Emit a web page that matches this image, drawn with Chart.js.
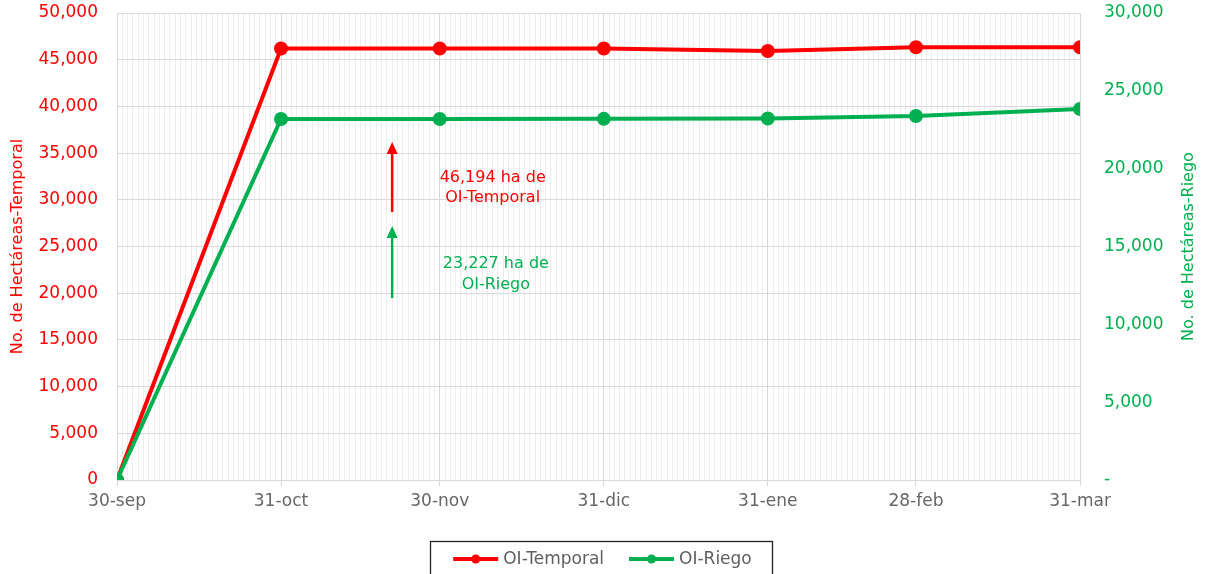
<!DOCTYPE html>
<html><head><meta charset="utf-8">
<script src="https://cdn.jsdelivr.net/npm/chart.js@4/dist/chart.umd.min.js"></script>
<style>html,body{margin:0;padding:0;background:#fff;}#wrap{width:1208px;height:574px;position:relative;overflow:hidden}</style>
</head><body><div id="wrap"><canvas id="c" width="1208" height="574" style="width:1208px;height:574px"></canvas></div>
<script>
// ---- data ----
const dates = ['2022-09-30','2022-10-31','2022-11-30','2022-12-31','2023-01-31','2023-02-28','2023-03-31'];
const tickLabels = ['30-sep','31-oct','30-nov','31-dic','31-ene','28-feb','31-mar'];
const seriesNames = ['OI-Temporal','OI-Riego'];
const temporal = [0, 46194, 46194, 46194, 45930, 46330, 46340];
const riego = [0, 23190, 23195, 23200, 23227, 23380, 23830];
const leftTicksMax = 50000, rightTicksMax = 30000, tickStep = 5000;
const leftTitle = 'No. de Hectáreas-Temporal';
const rightTitle = 'No. de Hectáreas-Riego';
const notes = [
  {lines:['46,194 ha de','OI-Temporal'], color:'#ff0000', textDay:71, textY:[32330,30190], arrowDay:52, arrowFrom:28700, arrowTo:36200},
  {lines:['23,227 ha de','OI-Riego'], color:'#00b050', textDay:71.6, textY:[23120,20880], arrowDay:52, arrowFrom:19480, arrowTo:27200}
];

// ---- helpers ----
const base = Date.parse(dates[0]+'T00:00:00Z');
const days = dates.map(d => Math.round((Date.parse(d+'T00:00:00Z') - base)/86400000));
const lastDay = days[days.length-1];
const FONT = "'DejaVu Sans', sans-serif";
const RED = '#ff0000', GREEN = '#00b050', GRAY = '#666666', LEGGRAY = '#5f5f5f';

const notesPlugin = {
  id:'notes',
  afterDatasetsDraw(chart){
    const {ctx} = chart; const xs = chart.scales.x, ys = chart.scales.y;
    ctx.save();
    notes.forEach(n => {
      const ax = xs.getPixelForValue(n.arrowDay);
      const y0 = ys.getPixelForValue(n.arrowFrom), y1 = ys.getPixelForValue(n.arrowTo);
      ctx.strokeStyle = n.color; ctx.fillStyle = n.color; ctx.lineWidth = 2.5;
      ctx.beginPath(); ctx.moveTo(ax, y0); ctx.lineTo(ax, y1 + 10); ctx.stroke();
      ctx.beginPath(); ctx.moveTo(ax, y1); ctx.lineTo(ax-5.5, y1+12); ctx.lineTo(ax+5.5, y1+12); ctx.closePath(); ctx.fill();
      ctx.font = '16px ' + FONT; ctx.textAlign = 'center'; ctx.textBaseline = 'middle';
      const tx = xs.getPixelForValue(n.textDay);
      n.lines.forEach((l,i) => ctx.fillText(l, tx, ys.getPixelForValue(n.textY[i])));
    });
    ctx.restore();
  }
};

const extrasPlugin = {
  id:'extras',
  afterDraw(chart){
    const {ctx, chartArea} = chart;
    const r = chart.scales.y1;
    // right axis title, reading bottom to top
    ctx.save();
    ctx.translate(r.right - 19, (chartArea.top + chartArea.bottom)/2);
    ctx.rotate(-Math.PI/2);
    ctx.font = '16px ' + FONT; ctx.fillStyle = GREEN; ctx.textAlign = 'center'; ctx.textBaseline = 'middle';
    ctx.fillText(rightTitle, 0, 0);
    ctx.restore();
    // legend
    const ds = chart.data.datasets;
    ctx.save();
    ctx.font = '17px ' + FONT; ctx.textBaseline = 'middle'; ctx.textAlign = 'left';
    const LW = 45, GAP = 5, SEP = 25;
    const widths = ds.map(d => LW + GAP + ctx.measureText(d.label).width);
    const total = widths.reduce((a,b)=>a+b,0) + SEP*(ds.length-1);
    const cx = (chartArea.left + chartArea.right)/2 + 4;
    const cy = 559;
    let x = cx - total/2;
    const start = x;
    ds.forEach((d,i) => {
      ctx.strokeStyle = d.borderColor; ctx.fillStyle = d.borderColor; ctx.lineWidth = 4;
      ctx.beginPath(); ctx.moveTo(x, cy); ctx.lineTo(x+LW, cy); ctx.stroke();
      ctx.beginPath(); ctx.arc(x+LW/2, cy, 4.5, 0, Math.PI*2); ctx.fill();
      ctx.fillStyle = LEGGRAY; ctx.fillText(d.label, x+LW+GAP, cy+1);
      x += widths[i] + SEP;
    });
    const end = x - SEP;
    ctx.strokeStyle = '#222'; ctx.lineWidth = 1.3;
    ctx.strokeRect(Math.round(start-23)+0.5, 541.5, Math.round(end-start+43), 60);
    ctx.restore();
  }
};

const fmt = v => Number(v).toLocaleString('en-US');
const fixPad = s => { s.paddingTop = 10; s.paddingBottom = 10; };

new Chart(document.getElementById('c'), {
  type:'line',
  data:{
    datasets:[
      {label:seriesNames[0], data:days.map((d,i)=>({x:d,y:temporal[i]})), borderColor:RED, backgroundColor:RED,
       borderWidth:4, pointRadius:5, pointHoverRadius:5, yAxisID:'y', order:1, tension:0},
      {label:seriesNames[1], data:days.map((d,i)=>({x:d,y:riego[i]})), borderColor:GREEN, backgroundColor:GREEN,
       borderWidth:4, pointRadius:5, pointHoverRadius:5, yAxisID:'y1', order:0, tension:0}
    ]
  },
  options:{
    responsive:false, animation:false, devicePixelRatio:1,
    layout:{padding:{top:13, left:0, right:0, bottom:36}},
    plugins:{ tooltip:{enabled:false}, legend:{display:false} },
    scales:{
      x:{
        type:'linear', min:0, max:lastDay,
        afterBuildTicks: s => { s.ticks = Array.from({length:lastDay+1}, (_,i)=>({value:i})); },
        afterFit: s => { s.height = 58; },
        ticks:{autoSkip:false, maxRotation:0, minRotation:0, padding:5, color:GRAY, font:{family:FONT, size:17},
          callback: v => { const k = days.indexOf(v); return k >= 0 ? tickLabels[k] : ''; }},
        grid:{
          color: c => days.includes(c.tick && c.tick.value) ? '#d9d9d9' : '#ededed',
          tickColor: c => days.includes(c.tick && c.tick.value) ? '#d9d9d9' : 'rgba(0,0,0,0)',
          tickLength:6, lineWidth:1
        },
        border:{display:false}
      },
      y:{
        position:'left', min:0, max:leftTicksMax,
        afterFit: s => { s.width = 117; fixPad(s); },
        ticks:{stepSize:tickStep, color:RED, padding:19, font:{family:FONT, size:17}, callback: v => fmt(v)},
        grid:{color:'#d9d9d9', drawTicks:false},
        border:{display:false},
        title:{display:true, text:leftTitle, color:RED, font:{family:FONT, size:16}, padding:{top:8, bottom:0}}
      },
      y1:{
        position:'right', min:0, max:rightTicksMax,
        afterFit: s => { s.width = 128; fixPad(s); },
        ticks:{stepSize:tickStep, color:GREEN, padding:24, font:{family:FONT, size:17}, callback: v => v === 0 ? '-' : fmt(v)},
        grid:{drawOnChartArea:false, drawTicks:false},
        border:{display:false}
      }
    }
  },
  plugins:[notesPlugin, extrasPlugin]
});
</script></body></html>
